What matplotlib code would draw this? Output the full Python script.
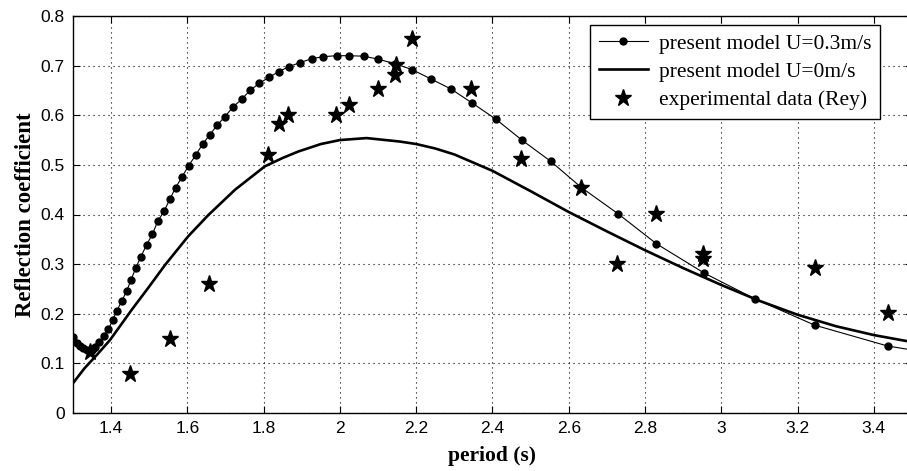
import matplotlib
matplotlib.use("Agg")
import matplotlib.pyplot as plt

# Reflection coefficient vs wave period
# Model with current U = 0.3 m/s (computed points)
period_u03 = [1.301, 1.310, 1.318, 1.327, 1.338, 1.349, 1.358, 1.369, 1.380, 1.393,
              1.404, 1.415, 1.428, 1.441, 1.452, 1.465, 1.478, 1.493, 1.508, 1.522,
              1.539, 1.554, 1.569, 1.586, 1.603, 1.622, 1.640, 1.659, 1.678, 1.698,
              1.720, 1.742, 1.764, 1.788, 1.815, 1.840, 1.866, 1.895, 1.926, 1.956,
              1.991, 2.023, 2.063, 2.100, 2.144, 2.189, 2.239, 2.291, 2.346, 2.409,
              2.477, 2.553, 2.632, 2.730, 2.830, 2.955, 3.088, 3.245, 3.436, 3.500]
refl_u03 = [0.153, 0.142, 0.135, 0.130, 0.126, 0.127, 0.134, 0.144, 0.155, 0.169,
            0.187, 0.206, 0.226, 0.246, 0.268, 0.293, 0.315, 0.339, 0.360, 0.386,
            0.407, 0.431, 0.454, 0.476, 0.498, 0.520, 0.542, 0.561, 0.580, 0.597,
            0.617, 0.632, 0.650, 0.664, 0.677, 0.688, 0.698, 0.706, 0.714, 0.718,
            0.720, 0.720, 0.719, 0.713, 0.704, 0.692, 0.673, 0.653, 0.625, 0.592,
            0.550, 0.507, 0.455, 0.401, 0.341, 0.282, 0.230, 0.177, 0.135, 0.127]
# marker shown at every computed point except the last (edge of frame)
n_marked = len(period_u03) - 1

# Model without current
period_u0 = [1.300, 1.330, 1.366, 1.397, 1.454, 1.500, 1.541, 1.602, 1.655, 1.725,
             1.803, 1.850, 1.891, 1.950, 2.000, 2.070, 2.157, 2.200, 2.250, 2.300,
             2.400, 2.500, 2.600, 2.700, 2.800, 2.900, 3.000, 3.100, 3.200, 3.300,
             3.400, 3.500]
refl_u0 = [0.060, 0.090, 0.120, 0.147, 0.208, 0.255, 0.298, 0.356, 0.399, 0.450,
           0.497, 0.514, 0.527, 0.542, 0.550, 0.554, 0.547, 0.542, 0.533, 0.521,
           0.488, 0.447, 0.405, 0.366, 0.328, 0.292, 0.258, 0.226, 0.198, 0.175,
           0.157, 0.143]

# Experimental data (Rey)
period_exp = [1.345, 1.449, 1.554, 1.656, 1.811, 1.840, 1.864, 1.989, 2.023, 2.099,
              2.144, 2.147, 2.189, 2.343, 2.474, 2.632, 2.726, 2.828, 2.951, 2.953,
              3.245, 3.436]
refl_exp = [0.123, 0.079, 0.149, 0.260, 0.520, 0.583, 0.601, 0.601, 0.621, 0.653,
            0.681, 0.702, 0.754, 0.653, 0.512, 0.454, 0.300, 0.401, 0.321, 0.310,
            0.292, 0.202]

x_ticks = [1.4, 1.6, 1.8, 2.0, 2.2, 2.4, 2.6, 2.8, 3.0, 3.2, 3.4]
x_ticklabels = ["1.4", "1.6", "1.8", "2", "2.2", "2.4", "2.6", "2.8", "3", "3.2", "3.4"]
y_ticks = [0, 0.1, 0.2, 0.3, 0.4, 0.5, 0.6, 0.7, 0.8]
y_ticklabels = ["0", "0.1", "0.2", "0.3", "0.4", "0.5", "0.6", "0.7", "0.8"]

W, H = 907, 471
fig = plt.figure(figsize=(W / 100, H / 100), dpi=100)
ax = fig.add_axes([73 / W, (H - 413) / H, (912 - 73) / W, (413 - 16) / H])

ax.plot(period_u03, refl_u03, color="black", lw=0.8, marker="o", ms=5,
        markevery=list(range(n_marked)), label="present model U=0.3m/s", zorder=3)
ax.plot(period_u0, refl_u0, color="black", lw=1.9, label="present model U=0m/s", zorder=3)
ax.plot(period_exp, refl_exp, linestyle="none", color="black", marker="*", ms=12.5,
        label="experimental data (Rey)", zorder=4)

ax.set_xlim(1.3, 3.5)
ax.set_ylim(0, 0.8)
ax.set_xticks(x_ticks)
ax.set_xticklabels(x_ticklabels)
ax.set_yticks(y_ticks)
ax.set_yticklabels(y_ticklabels)

ax.grid(True, color="black", linestyle=(0, (1, 3.5)), linewidth=0.8)
ax.tick_params(direction="in", length=5, width=0.8, top=True, right=True,
               labelsize=12.5, pad=6)
for lab in ax.get_xticklabels() + ax.get_yticklabels():
    lab.set_family("Liberation Sans")
for sp in ax.spines.values():
    sp.set_linewidth(1.0)

ax.set_xlabel("period (s)", family="Liberation Serif", fontsize=15.5,
              fontweight="bold", labelpad=7)
ax.set_ylabel("Reflection coefficient", family="Liberation Serif", fontsize=16.5,
              fontweight="bold", labelpad=3)

leg = ax.legend(loc="upper right", bbox_to_anchor=(880 / W, 1 - 25 / H),
                bbox_transform=fig.transFigure, borderaxespad=0,
                prop={"family": "Liberation Serif", "size": 15.5},
                frameon=True, fancybox=False, edgecolor="black", framealpha=1,
                handlelength=2.3, handletextpad=0.5, labelspacing=0.38,
                borderpad=0.4)
leg.get_frame().set_linewidth(1.0)

fig.savefig("out.png", dpi=100)
